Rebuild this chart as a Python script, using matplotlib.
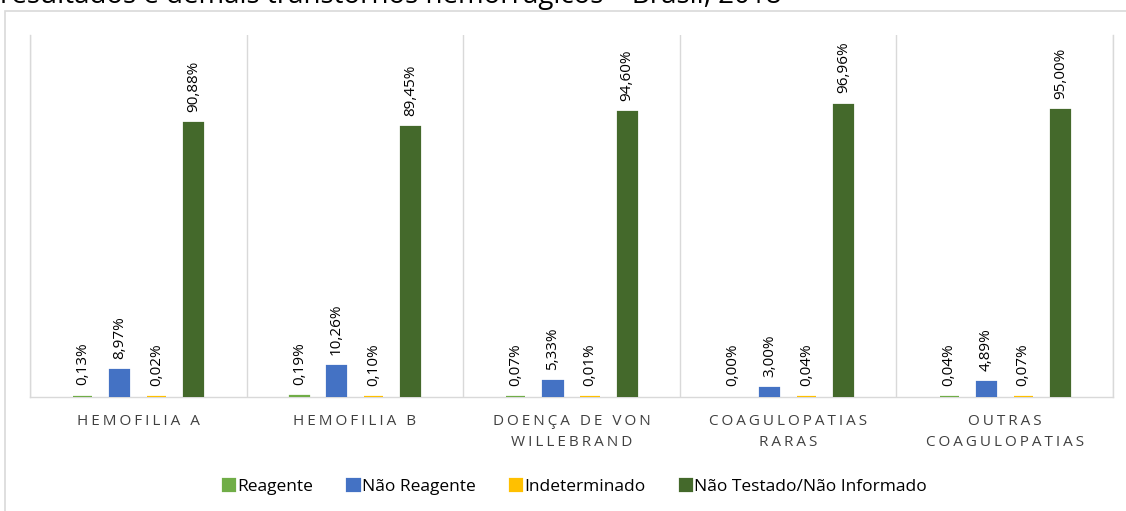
import matplotlib
matplotlib.use("Agg")
import matplotlib.pyplot as plt
from matplotlib.patches import Rectangle
import numpy as np

plt.rcParams["font.family"] = ["Open Sans", "DejaVu Sans"]

HS = "\u200a\u200a"  # hair spaces, mimic Excel's letter spacing on the axis
CATEGORIES = ["HEMOFILIA A", "HEMOFILIA B", "DOENÇA DE VON\nWILLEBRAND",
              "COAGULOPATIAS\nRARAS", "OUTRAS\nCOAGULOPATIAS"]
SERIES = ["Reagente", "Não Reagente", "Indeterminado", "Não Testado/Não Informado"]
REAGENTE = [0.13, 0.19, 0.07, 0.00, 0.04]
NAO_REAGENTE = [8.97, 10.26, 5.33, 3.00, 4.89]
INDETERMINADO = [0.02, 0.10, 0.01, 0.04, 0.07]
NAO_TESTADO = [90.88, 89.45, 94.60, 96.96, 95.00]
COLORS = ["#70AD47", "#4472C4", "#FFC000", "#44692B"]


def spaced(label):
    lines = []
    for line in label.split("\n"):
        lines.append(HS.join(" " if ch == " " else ch for ch in line))
    return "\n".join(lines)


fig = plt.figure(figsize=(11.26, 5.11), dpi=100)
ax = fig.add_axes([30 / 1126, 114 / 511, 1083 / 1126, 362 / 511])

# title is cut off at the top edge in the source image
fig.text(0.0, 1 - 3 / 511, "resultados e demais transtornos hemorrágicos – Brasil, 2018",
         fontsize=20, color="#000000", ha="left", va="baseline")
fig.patches.append(Rectangle((5 / 1126, -0.1), 1.2, 1.1 - 11 / 511,
                             transform=fig.transFigure, fill=False,
                             edgecolor="#d9d9d9", linewidth=1.2))

x = np.arange(len(CATEGORIES))
step = 0.171
width = 0.088
for i, (name, vals) in enumerate(zip(SERIES, [REAGENTE, NAO_REAGENTE, INDETERMINADO, NAO_TESTADO])):
    pos = x + (i - 1.5) * step
    lw = [1.6 if v > 0 else 0 for v in vals]
    ax.bar(pos, vals, width, color=COLORS[i], edgecolor=COLORS[i], linewidth=lw,
           label=name, zorder=3)
    for px, v in zip(pos, vals):
        ax.annotate(f"{v:.2f}%".replace(".", ","), (px, v), xytext=(0, 8),
                    textcoords="offset points", rotation=90, ha="center",
                    va="bottom", fontsize=11, color="#000000")

ax.set_xlim(-0.5, len(CATEGORIES) - 0.5)
ax.set_ylim(0, 120)
ax.set_yticks([])
ax.set_xticks(x)
ax.set_xticklabels([spaced(c) for c in CATEGORIES], fontsize=11, color="#404040",
                   linespacing=1.55)
ax.set_xticks(np.arange(-0.5, len(CATEGORIES)), minor=True)
ax.tick_params(axis="x", which="both", length=0, pad=12)
ax.grid(axis="x", which="minor", color="#d9d9d9", linewidth=1.0)
ax.spines["top"].set_visible(False)
for s in ["left", "right", "bottom"]:
    ax.spines[s].set_color("#d9d9d9")
    ax.spines[s].set_linewidth(1.0)

fig.legend(loc="center", bbox_to_anchor=(0.5107, 1 - 487 / 511), ncol=4,
           frameon=False, fontsize=12.5, handlelength=0.7, handleheight=0.7,
           handletextpad=0.15, columnspacing=1.95, labelcolor="#000000")

fig.savefig("out.png", dpi=100)
